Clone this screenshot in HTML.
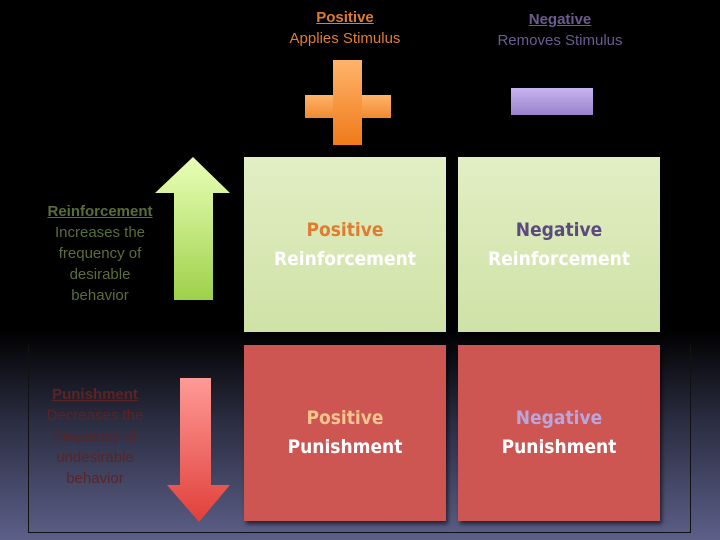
<!DOCTYPE html>
<html><head><style>
body{margin:0}
#c{position:relative;width:720px;height:540px;overflow:hidden;background:linear-gradient(to bottom,#000 0px,#000 330px,#2a2c40 420px,#5c5f88 540px);font-family:"Liberation Sans",sans-serif}
.a{position:absolute}
.t{position:absolute;text-align:center;font-size:15px;line-height:21px}
.box{position:absolute;width:202px;box-shadow:2px 3px 4px rgba(0,0,0,.6);display:flex;flex-direction:column;align-items:center;justify-content:center;font-family:"DejaVu Sans Condensed","Liberation Sans",sans-serif;font-weight:bold;font-size:19px;line-height:29px;color:#fff}
.g{background:linear-gradient(#e2eec4,#cfe2a6);height:175px;top:157px}
.r{background:#cd5653;height:176px;top:345px}
</style></head><body><div id="c">
<div class="a" style="left:28px;top:343px;width:661px;height:189px;border:1px solid #111;border-top:none"></div>
<div class="t" style="left:250px;top:7px;width:190px;color:#e07c30"><b style="text-decoration:underline">Positive</b><br>Applies Stimulus</div>
<div class="t" style="left:465px;top:9px;width:190px;color:#6a5c90"><b style="text-decoration:underline">Negative</b><br>Removes Stimulus</div>
<div class="a" style="left:305px;top:95px;width:86px;height:23px;background:linear-gradient(#ffb46a,#f08a30)"></div>
<div class="a" style="left:333px;top:60px;width:29px;height:85px;background:linear-gradient(#ffb46a,#f07a1a)"></div>
<div class="a" style="left:511px;top:88px;width:82px;height:27px;background:linear-gradient(#c8b4f0,#9a82cc)"></div>
<svg class="a" style="left:0;top:0" width="720" height="540">
<defs><linearGradient id="gu" x1="0" y1="0" x2="0" y2="1"><stop offset="0" stop-color="#eaffb8"/><stop offset="1" stop-color="#9ed14a"/></linearGradient>
<linearGradient id="rd" x1="0" y1="0" x2="0" y2="1"><stop offset="0" stop-color="#ff9a96"/><stop offset="1" stop-color="#e0403a"/></linearGradient></defs>
<polygon points="193,157 230,193 213,193 213,300 174,300 174,193 155,193" fill="url(#gu)"/>
<polygon points="180,378 211,378 211,485 230,485 199,522 167,485 180,485" fill="url(#rd)"/>
</svg>
<div class="t" style="left:30px;top:201px;width:140px;color:#5a6e3a"><b style="text-decoration:underline">Reinforcement</b><br>Increases the<br>frequency of<br>desirable<br>behavior</div>
<div class="t" style="left:25px;top:384px;width:140px;color:#5a2424"><b style="text-decoration:underline">Punishment</b><br>Decreases the<br>frequency of<br>undesirable<br>behavior</div>
<div class="box g" style="left:244px"><span style="color:#e07c30">Positive</span><span>Reinforcement</span></div>
<div class="box g" style="left:458px"><span style="color:#5a4a80">Negative</span><span>Reinforcement</span></div>
<div class="box r" style="left:244px"><span style="color:#f6c48e">Positive</span><span>Punishment</span></div>
<div class="box r" style="left:458px"><span style="color:#b8a6dc">Negative</span><span>Punishment</span></div>
</div></body></html>
